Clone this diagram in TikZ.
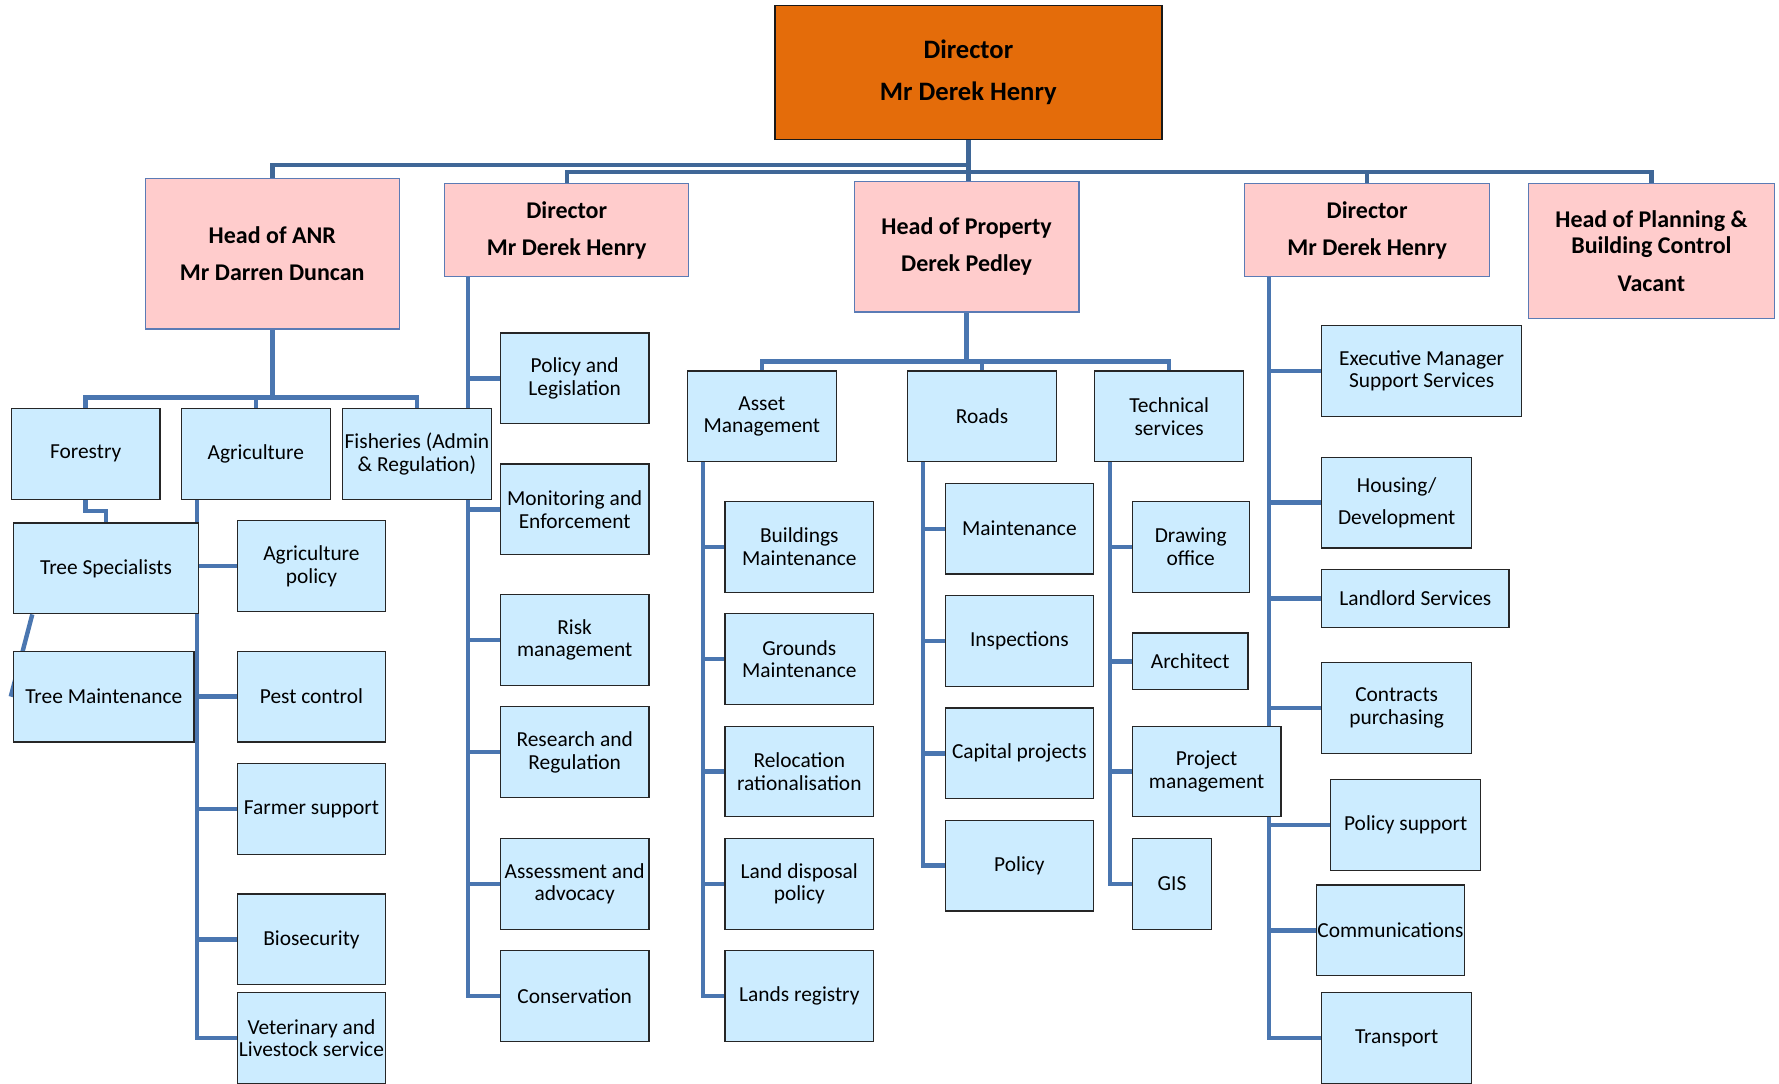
\documentclass[tikz,border=0pt]{standalone}
\usepackage{fontspec}
\setmainfont{Carlito}
\usepackage{xcolor}
\definecolor{dirorange}{HTML}{E46C0A}
\definecolor{headpink}{HTML}{FFCCCC}
\definecolor{unitblue}{HTML}{CCECFF}
\definecolor{linkblue}{HTML}{4A76B0}
\definecolor{trunkblue}{HTML}{3F6797}
\definecolor{pinkedge}{HTML}{5B7BB5}
\newcommand\px{0.5673pt}
\pgfdeclarelayer{background}
\pgfsetlayers{background,main}
\tikzstyle{director box}=[draw=black!90,fill=dirorange,line width=0.7pt,inner sep=0pt,align=center,
  minimum width=341*\px,minimum height=118*\px,font=\bfseries\fontsize{13.3}{21}\selectfont]
\tikzstyle{head}=[draw=pinkedge,fill=headpink,line width=0.6pt,inner sep=0pt,align=center,
  font=\bfseries\fontsize{12}{18.7}\selectfont]
\tikzstyle{unit}=[draw=black!85,fill=unitblue,line width=0.6pt,inner sep=0pt,align=center,
  minimum width=131*\px,minimum height=80*\px,font=\fontsize{10.7}{11.3}\selectfont]
\tikzstyle{link}=[linkblue,line width=2.2pt]
\tikzstyle{trunk}=[trunkblue,line width=2.2pt]

\begin{document}
\begin{tikzpicture}[x=\px,y=-\px]
  \useasboundingbox (0,0) rectangle (1568,955);
  % top and heads
  \node[director box] (dir) at (853.5,64) {Director\\Mr Derek Henry};
  \node[head,minimum width=224*\px,minimum height=133*\px] (anr) at (240,223.5) {Head of ANR\\Mr Darren Duncan};
  \node[head,minimum width=215*\px,minimum height=82*\px] (dirb) at (499.5,203) {Director\\Mr Derek Henry};
  \node[head,minimum width=198*\px,minimum height=115*\px] (prop) at (852,217.5) {Head of Property\\Derek Pedley};
  \node[head,minimum width=216*\px,minimum height=82*\px] (dirc) at (1205,203) {Director\\Mr Derek Henry};
  \node[head,minimum width=217*\px,minimum height=119*\px,font=\bfseries\fontsize{12}{13}\selectfont] (plan) at (1455.5,221.5)
    {Head of Planning \&\\Building Control\\[5.7pt]Vacant};
  % ANR
  \node[unit] (forestry) at (75.5,400) {Forestry};
  \node[unit] (agri) at (225.5,400) {Agriculture};
  \node[unit] (fish) at (367.5,400) {Fisheries (Admin\\\& Regulation)};
  \node[unit,minimum width=163*\px] (treespec) at (93.5,501) {Tree Specialists};
  \node[unit,minimum width=159*\px] (treemaint) at (91.5,614) {Tree Maintenance};
  \node[unit] (agpol) at (274.5,499) {Agriculture\\policy};
  \node[unit] (pest) at (274.5,614) {Pest control};
  \node[unit] (farmer) at (274.5,713) {Farmer support};
  \node[unit] (bio) at (274.5,828) {Biosecurity};
  \node[unit] (vet) at (274.5,915) {Veterinary and\\Livestock service};
  % second director
  \node[unit] (polleg) at (506.5,333.5) {Policy and\\Legislation};
  \node[unit] (monitor) at (506.5,449) {Monitoring and\\Enforcement};
  \node[unit] (risk) at (506.5,564) {Risk\\management};
  \node[unit] (research) at (506.5,663) {Research and\\Regulation};
  \node[unit] (assess) at (506.5,779) {Assessment and\\advocacy};
  \node[unit] (conserv) at (506.5,878) {Conservation};
  % property
  \node[unit] (asset) at (671.5,367) {Asset\\Management};
  \node[unit] (roads) at (865.5,367) {Roads};
  \node[unit] (tech) at (1030.5,367) {Technical\\services};
  \node[unit] (buildings) at (704.5,482) {Buildings\\Maintenance};
  \node[unit] (grounds) at (704.5,581) {Grounds\\Maintenance};
  \node[unit] (reloc) at (704.5,680) {Relocation\\rationalisation};
  \node[unit] (landdisp) at (704.5,779) {Land disposal\\policy};
  \node[unit] (landreg) at (704.5,878) {Lands registry};
  \node[unit] (maint) at (898.5,466) {Maintenance};
  \node[unit] (insp) at (898.5,565) {Inspections};
  \node[unit] (capital) at (898.5,664) {Capital projects};
  \node[unit] (rpolicy) at (898.5,763) {Policy};
  \node[unit,minimum width=103*\px] (drawing) at (1049.5,482) {Drawing\\office};
  \node[unit,minimum width=102*\px,minimum height=50*\px] (architect) at (1049,583) {Architect};
  \node[unit] (projmgmt) at (1063.5,680) {Project\\management};
  \node[unit,minimum width=70*\px] (gis) at (1033,779) {GIS};
  % third director
  \node[unit,minimum width=176*\px] (exec) at (1253,327) {Executive Manager\\Support Services};
  \node[unit,minimum width=132*\px] (housing) at (1231,443) {Housing/\\[4.6pt]Development};
  \node[unit,minimum width=165*\px,minimum height=51*\px] (landlord) at (1247.5,527.5) {Landlord Services};
  \node[unit,minimum width=132*\px] (contracts) at (1231,624) {Contracts\\purchasing};
  \node[unit,minimum width=132*\px] (polsup) at (1239,727) {Policy support};
  \node[unit] (comms) at (1225.5,820) {Communications};
  \node[unit,minimum width=132*\px] (transport) at (1231,915) {Transport};

  \begin{pgfonlayer}{background}
  \draw[trunk] (dir.south) -- ++(0,22) -| (anr.north);
  \draw[trunk] (dir.south) -- (dir.south |- prop.north);
  \foreach \n in {dirb,dirc,plan} \draw[trunk] (dir.south) ++(0,28) -| (\n.north);
  % ANR links
  \draw[link] (anr.south) -- ++(0,60) coordinate (anr hub);
  \foreach \n in {forestry,agri,fish} \draw[link] (anr hub) -| (\n.north);
  \draw[link] (forestry.south) -- ++(0,10) -| (treespec.north);
  \draw[link] ([xshift=17*\px]treespec.south west) -- ([xshift=-2*\px]treemaint.west);
  \coordinate (agri line) at ([xshift=14*\px]agri.south west);
  \foreach \n in {agpol,pest,farmer,bio,vet} \draw[link] (agri line) |- (\n.west);
  % director links
  \coordinate (dirb line) at ([xshift=21*\px]dirb.south west);
  \foreach \n in {polleg,monitor,risk,research,assess,conserv} \draw[link] (dirb line) |- (\n.west);
  \coordinate (dirc line) at ([xshift=22*\px]dirc.south west);
  \foreach \n in {exec,housing,landlord,contracts,polsup,comms,transport} \draw[link] (dirc line) |- (\n.west);
  % property links
  \draw[link] (prop.south) -- ++(0,43) coordinate (prop hub);
  \foreach \n in {asset,roads,tech} \draw[link] (prop hub) -| (\n.north);
  \coordinate (asset line) at ([xshift=14*\px]asset.south west);
  \foreach \n in {buildings,grounds,reloc,landdisp,landreg} \draw[link] (asset line) |- (\n.west);
  \coordinate (roads line) at ([xshift=14*\px]roads.south west);
  \foreach \n in {maint,insp,capital,rpolicy} \draw[link] (roads line) |- (\n.west);
  \coordinate (tech line) at ([xshift=14*\px]tech.south west);
  \foreach \n in {drawing,architect,projmgmt,gis} \draw[link] (tech line) |- (\n.west);
  \end{pgfonlayer}
\end{tikzpicture}
\end{document}
